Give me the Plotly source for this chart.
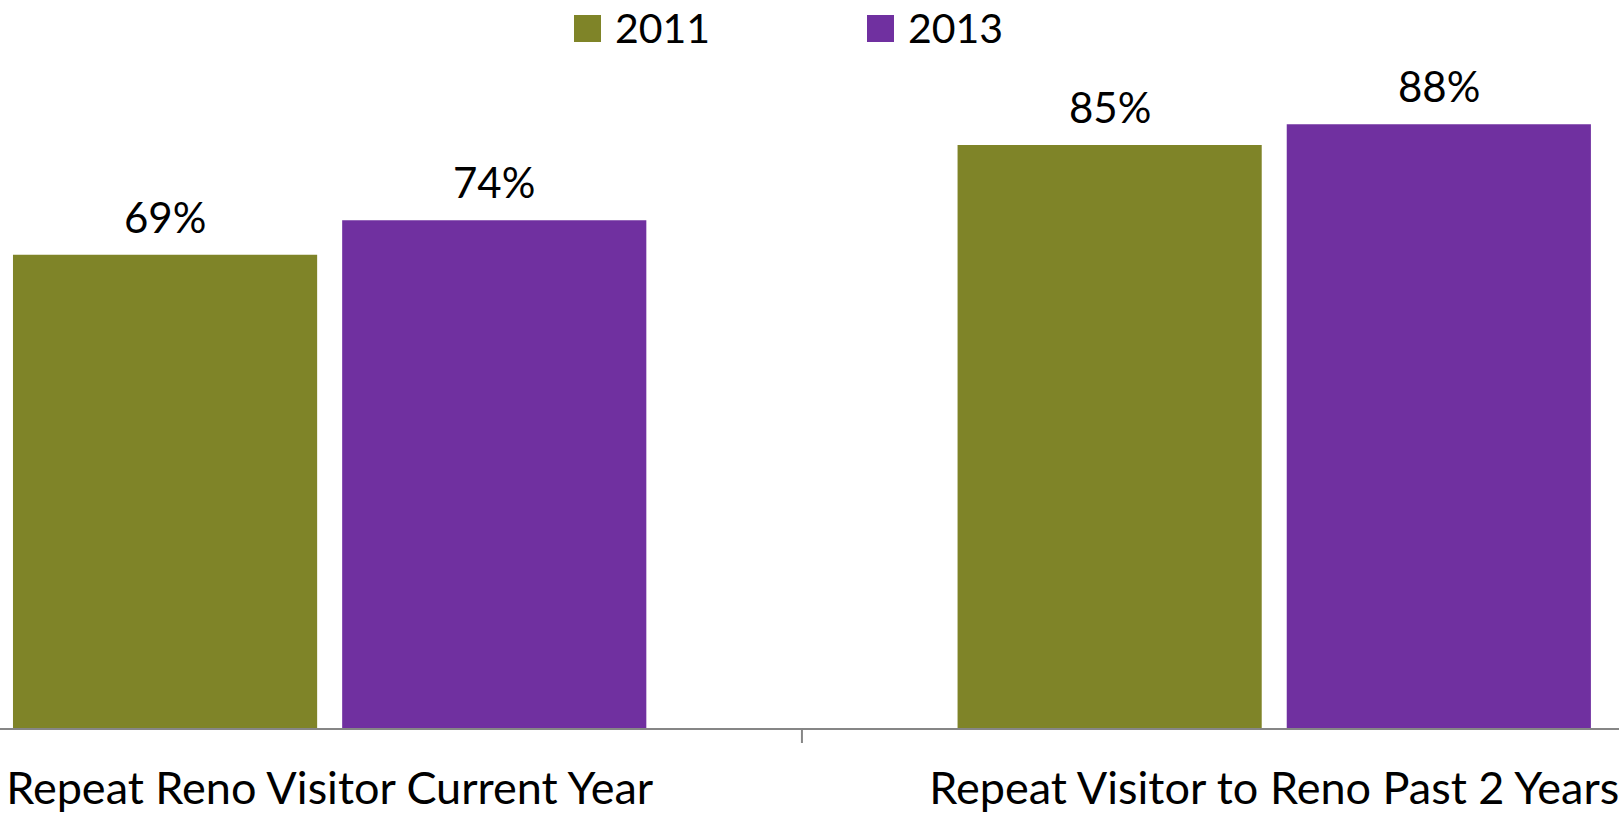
import plotly.graph_objects as go

# Chart data
categories = ["Repeat Reno Visitor Current Year", "Repeat Visitor to Reno Past 2 Years"]
series_names = ["2011", "2013"]
values_2011 = [0.69, 0.85]
values_2013 = [0.74, 0.88]
series_values = [values_2011, values_2013]
series_colors = ["#7F8428", "#7030A0"]

W, H = 1619, 813
M_TOP, M_BOT = 42, 85
PLOT_H = H - M_TOP - M_BOT

FONT = "Lato, 'Open Sans', sans-serif"
BARGAP = 0.303
BARGROUPGAP = 0.076
X_RANGE = [-0.349, 1.365]

fig = go.Figure()
for name, vals, color in zip(series_names, series_values, series_colors):
    fig.add_trace(go.Bar(
        x=categories, y=vals, name=name,
        marker=dict(color=color, line=dict(width=0)),
        showlegend=False, hoverinfo="skip",
    ))

# Value labels above each bar, placed at the bar slot centres
slot = (1 - BARGAP) / len(series_names)
annotations = []
for j, vals in enumerate(series_values):
    offset = (j - (len(series_names) - 1) / 2) * slot
    for i, v in enumerate(vals):
        annotations.append(dict(
            x=i + offset, y=v, xref="x", yref="y",
            text=f"{round(v * 100)}%", showarrow=False,
            yanchor="middle", yshift=38,
            font=dict(family=FONT, size=42, color="#000000"),
        ))

# Legend drawn as swatches and labels across the top
px_to_paper_x = lambda px: px / W
px_to_paper_y = lambda py: (H - M_BOT - py) / PLOT_H
legend_swatch_x = [574, 867]
shapes = []
for name, color, sx in zip(series_names, series_colors, legend_swatch_x):
    shapes.append(dict(
        type="rect", xref="paper", yref="paper",
        x0=px_to_paper_x(sx), x1=px_to_paper_x(sx + 27),
        y0=px_to_paper_y(42), y1=px_to_paper_y(15),
        fillcolor=color, line=dict(width=0),
    ))
    annotations.append(dict(
        x=px_to_paper_x(sx + 39), y=px_to_paper_y(28), xref="paper", yref="paper",
        text=name, showarrow=False, xanchor="left", yanchor="middle",
        font=dict(family=FONT, size=41, color="#000000"),
    ))

# Tick mark between the two categories
shapes.append(dict(
    type="line", xref="x", yref="paper",
    x0=0.5, x1=0.5, y0=0, y1=-15 / PLOT_H,
    line=dict(color="#868686", width=2),
))

fig.update_layout(
    width=W, height=H,
    margin=dict(l=0, r=0, t=M_TOP, b=M_BOT),
    paper_bgcolor="#FFFFFF", plot_bgcolor="#FFFFFF",
    barmode="group", bargap=BARGAP, bargroupgap=BARGROUPGAP,
    annotations=annotations, shapes=shapes,
    xaxis=dict(
        range=X_RANGE, showgrid=False, zeroline=False,
        showline=True, linecolor="#868686", linewidth=2,
        ticks="", tickfont=dict(family=FONT, size=45, color="#000000"),
        ticklabelstandoff=20,
    ),
    yaxis=dict(range=[0, 1], visible=False),
)

fig.write_html("out.html")
